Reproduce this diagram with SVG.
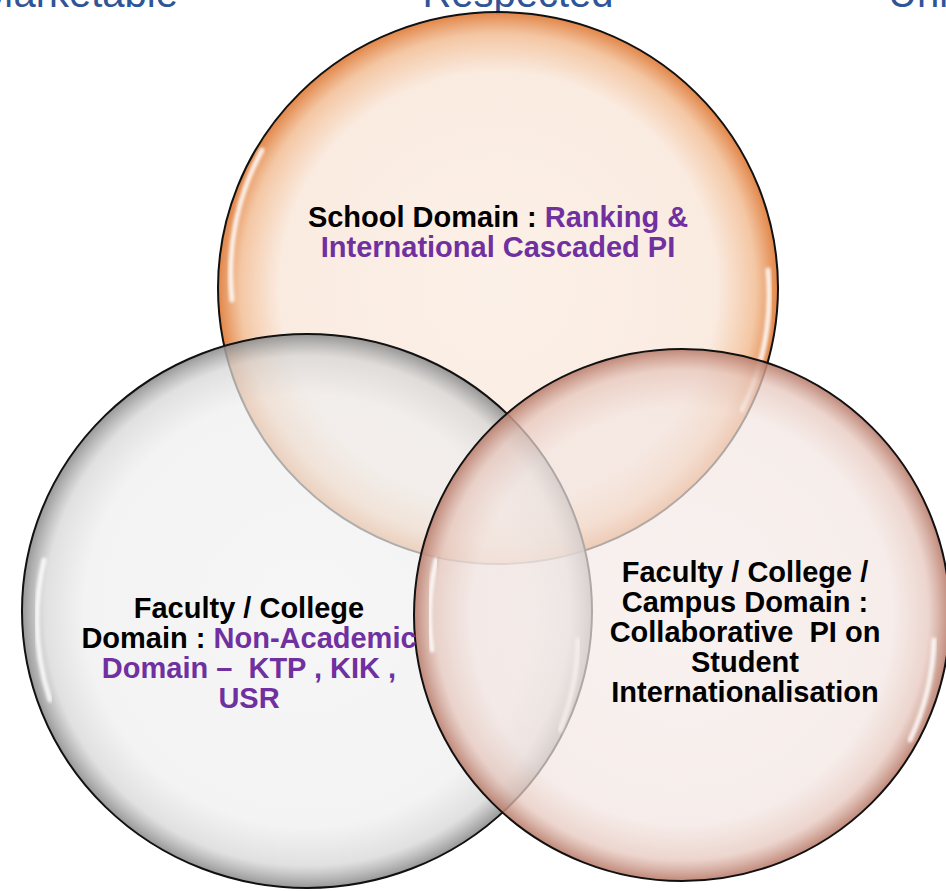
<svg xmlns="http://www.w3.org/2000/svg" width="946" height="891" viewBox="0 0 946 891">
<style>
.lbl{font-family:"Liberation Sans",Arial,sans-serif;font-weight:bold;font-size:29px;fill:#000;text-anchor:middle}
.hi{fill:#7030A0}
.top{font-family:"Liberation Sans",Arial,sans-serif;font-size:40px;fill:#2F5597}
.ring{stroke:#111;stroke-width:2}
.gloss{fill:none;stroke:#fff;stroke-width:5;stroke-linecap:round;opacity:0.85}
</style>
<defs>
<radialGradient id="gOrange" cx="50%" cy="50%" r="50%">
<stop offset="0" stop-color="#FBEDE3" stop-opacity="0.82"/>
<stop offset="0.78" stop-color="#F9E7DA" stop-opacity="0.82"/>
<stop offset="0.92" stop-color="#F2BD94" stop-opacity="0.85"/>
<stop offset="1" stop-color="#E07F3E" stop-opacity="0.95"/>
</radialGradient>
<radialGradient id="gGrey" cx="50%" cy="50%" r="50%">
<stop offset="0" stop-color="#F2F2F2" stop-opacity="0.7"/>
<stop offset="0.78" stop-color="#EEEEEE" stop-opacity="0.7"/>
<stop offset="0.92" stop-color="#D6D6D6" stop-opacity="0.75"/>
<stop offset="1" stop-color="#8C8C8C" stop-opacity="0.9"/>
</radialGradient>
<radialGradient id="gPink" cx="50%" cy="50%" r="50%">
<stop offset="0" stop-color="#F5ECE9" stop-opacity="0.7"/>
<stop offset="0.78" stop-color="#F3E6E2" stop-opacity="0.7"/>
<stop offset="0.92" stop-color="#E6C7BD" stop-opacity="0.75"/>
<stop offset="1" stop-color="#B97C6B" stop-opacity="0.9"/>
</radialGradient>
<filter id="blur" x="-10%" y="-10%" width="120%" height="120%">
<feGaussianBlur stdDeviation="1.5"/>
</filter>
</defs>
<g id="headings">
<text class="top" x="178" y="7" text-anchor="end">Marketable</text>
<text class="top" x="518" y="7" text-anchor="middle">Respected</text>
<text class="top" x="888" y="7">Uni</text>
</g>
<g id="connectors"></g>
<g id="node-school">
<ellipse class="ring" cx="498" cy="288" rx="280" ry="276" fill="url(#gOrange)"/>
<path class="gloss" filter="url(#blur)" d="M 262 150 A 270 266 0 0 0 232 300"/>
<path class="gloss" filter="url(#blur)" d="M 768 270 A 270 266 0 0 1 742 410" opacity="0.6"/>
</g>
<g id="node-faculty">
<ellipse class="ring" cx="307" cy="611" rx="285" ry="277" fill="url(#gGrey)"/>
<path class="gloss" filter="url(#blur)" d="M 44 560 A 275 267 0 0 0 50 700"/>
<path class="gloss" filter="url(#blur)" d="M 578 640 A 275 267 0 0 1 560 730" opacity="0.6"/>
</g>
<g id="node-campus">
<ellipse class="ring" cx="682" cy="615" rx="268" ry="266" fill="url(#gPink)"/>
<path class="gloss" filter="url(#blur)" d="M 436 560 A 258 256 0 0 0 432 650"/>
<path class="gloss" filter="url(#blur)" d="M 934 640 A 258 256 0 0 1 910 740" opacity="0.6"/>
</g>
<g id="labels">
<text class="lbl" x="498" y="227">School Domain : <tspan class="hi">Ranking &amp;</tspan></text>
<text class="lbl hi" x="498" y="257">International Cascaded PI</text>
<text class="lbl" x="249" y="618">Faculty / College</text>
<text class="lbl" x="249" y="648">Domain : <tspan class="hi">Non-Academic</tspan></text>
<text class="lbl hi" x="249" y="678" xml:space="preserve">Domain –  KTP , KIK ,</text>
<text class="lbl hi" x="249" y="708">USR</text>
<text class="lbl" x="745" y="582">Faculty / College /</text>
<text class="lbl" x="745" y="612">Campus Domain :</text>
<text class="lbl" x="745" y="642" xml:space="preserve">Collaborative  PI on</text>
<text class="lbl" x="745" y="672">Student</text>
<text class="lbl" x="745" y="702">Internationalisation</text>
</g>
</svg>
